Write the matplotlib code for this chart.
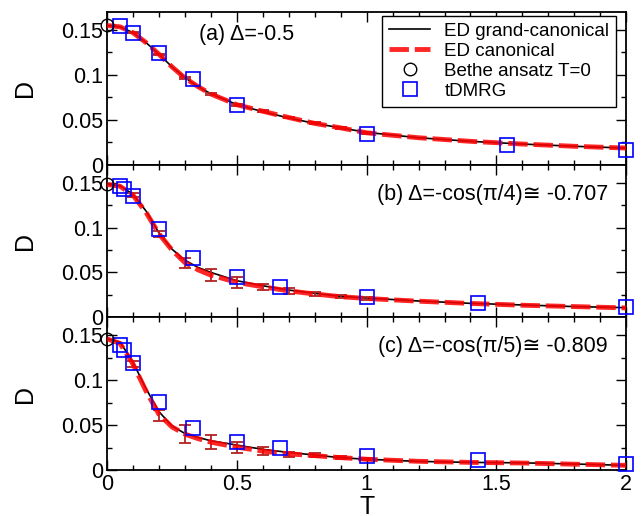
import matplotlib
matplotlib.use("Agg")
import matplotlib.pyplot as plt
from matplotlib.ticker import MultipleLocator, FuncFormatter

plt.rcParams['font.family'] = ['Liberation Sans', 'DejaVu Sans']

# temperature grid of the ED curves
T_ed = [0.0, 0.05, 0.1, 0.15, 0.2, 0.25, 0.3, 0.35, 0.4, 0.5, 0.6, 0.7,
        0.8, 0.9, 1.0, 1.2, 1.4, 1.6, 1.8, 2.0]

# ED grand-canonical (black)
gc_a = [0.155, 0.1535, 0.147, 0.136, 0.123, 0.109, 0.097, 0.087, 0.079, 0.067, 0.059, 0.052,
        0.046, 0.041, 0.036, 0.030, 0.026, 0.023, 0.0205, 0.0185]
gc_b = [0.148, 0.1465, 0.137, 0.1185, 0.094, 0.076, 0.0637, 0.0556, 0.050, 0.0408, 0.0352, 0.0304,
        0.0267, 0.0235, 0.0215, 0.0182, 0.0156, 0.0138, 0.012, 0.0108]
gc_c = [0.146, 0.1426, 0.120, 0.0907, 0.065, 0.049, 0.0407, 0.0363, 0.0326, 0.0278, 0.023, 0.0196,
        0.0167, 0.0137, 0.012, 0.0096, 0.0085, 0.008, 0.0067, 0.0052]

# ED canonical (red dashed)
can_a = [0.155, 0.1535, 0.147, 0.136, 0.123, 0.109, 0.0965, 0.087, 0.0787, 0.0668, 0.0595, 0.0525,
         0.046, 0.041, 0.0355, 0.030, 0.026, 0.023, 0.0205, 0.0185]
can_b = [0.148, 0.146, 0.136, 0.117, 0.093, 0.075, 0.061, 0.053, 0.047, 0.039, 0.034, 0.0295,
         0.026, 0.023, 0.021, 0.018, 0.0155, 0.0135, 0.012, 0.0105]
can_c = [0.146, 0.141, 0.118, 0.088, 0.062, 0.048, 0.040, 0.035, 0.031, 0.0255, 0.021, 0.018,
         0.016, 0.0138, 0.012, 0.0097, 0.0085, 0.0078, 0.0065, 0.0052]

# error bars of the canonical data
T_err = [0.1, 0.2, 0.3, 0.4, 0.5, 0.6, 0.7, 0.8, 0.9, 1.0]
errv_a = [0.147, 0.123, 0.0965, 0.0787, 0.0668, 0.0595, 0.0525, 0.046, 0.041, 0.0355]
err_a = [0.0005, 0.0008, 0.0015, 0.0015, 0.0012, 0.001, 0.001, 0.001, 0.001, 0.001]
errv_b = [0.136, 0.093, 0.061, 0.047, 0.039, 0.034, 0.0293, 0.026, 0.023, 0.021]
err_b = [0.002, 0.003, 0.0055, 0.007, 0.006, 0.0037, 0.0033, 0.002, 0.0015, 0.0015]
errv_c = [0.118, 0.061, 0.040, 0.031, 0.0254, 0.021, 0.0176, 0.0163, 0.0138, 0.012]
err_c = [0.003, 0.006, 0.0098, 0.008, 0.006, 0.0043, 0.003, 0.0022, 0.0015, 0.0012]

# Bethe ansatz T=0
ba = [0.155, 0.148, 0.146]

# tDMRG
T_dm_a = [0.05, 0.1, 0.2, 0.333, 0.5, 1.0, 1.54, 2.0]
dm_a = [0.1544, 0.1465, 0.124, 0.095, 0.067, 0.0347, 0.0224, 0.0168]
T_dm_bc = [0.05, 0.0667, 0.1, 0.2, 0.333, 0.5, 0.667, 1.0, 1.43, 2.0]
dm_b = [0.146, 0.1427, 0.135, 0.098, 0.0656, 0.0444, 0.034, 0.0222, 0.0156, 0.0111]
dm_c = [0.139, 0.134, 0.119, 0.0759, 0.0463, 0.0308, 0.0241, 0.0159, 0.0111, 0.0067]

labels = ["(a) \u0394=-0.5",
          "(b) \u0394=-cos(\u03c0/4)\u2245 -0.707",
          "(c) \u0394=-cos(\u03c0/5)\u2245 -0.809"]

panels = [
    (gc_a, can_a, errv_a, err_a, ba[0], T_dm_a, dm_a),
    (gc_b, can_b, errv_b, err_b, ba[1], T_dm_bc, dm_b),
    (gc_c, can_c, errv_c, err_c, ba[2], T_dm_bc, dm_c),
]

fig = plt.figure(figsize=(6.41, 5.16), dpi=100)
gs = fig.add_gridspec(3, 1, left=0.167, right=0.977, top=0.9767, bottom=0.0891, hspace=0)
axes = [fig.add_subplot(gs[i]) for i in range(3)]

fmt = FuncFormatter(lambda v, p: ("%g" % round(v, 3)))

for i, (ax, (gc, can, ev, ee, b0, tdm, dm)) in enumerate(zip(axes, panels)):
    ax.plot(T_ed, gc, color='black', lw=1.2, zorder=2, label='ED grand-canonical')
    ax.errorbar(T_err, ev, yerr=ee, fmt='none', ecolor='#b22222', elinewidth=1.3,
                capsize=4, capthick=1.3, zorder=3)
    ax.plot(T_ed, can, color='red', lw=3.5, ls=(0, (4, 1.2)), alpha=0.85, zorder=4,
            label='ED canonical')
    ax.plot([0], [b0], ls='none', marker='o', ms=9, mfc='none', mec='black', mew=1.0,
            clip_on=False, zorder=6, label='Bethe ansatz T=0')
    ax.plot(tdm, dm, ls='none', marker='s', ms=9.5, mfc='none', mec='blue', mew=1.2,
            clip_on=False, zorder=5, label='tDMRG')

    ax.set_xlim(0, 2)
    ax.set_ylim(0, 0.17)
    ax.xaxis.set_major_locator(MultipleLocator(0.5))
    ax.xaxis.set_minor_locator(MultipleLocator(0.1))
    ax.yaxis.set_major_locator(MultipleLocator(0.05))
    ax.yaxis.set_minor_locator(MultipleLocator(0.025))
    ax.yaxis.set_major_formatter(fmt)
    ax.xaxis.set_major_formatter(fmt)
    ax.tick_params(which='both', direction='in', top=True, right=True, labelsize=15.5, width=1.0)
    ax.tick_params(which='major', length=7, pad=3)
    ax.tick_params(which='minor', length=3.5)
    for s in ax.spines.values():
        s.set_linewidth(1.3)
    ax.set_ylabel('D', fontsize=18, labelpad=17)
    if i < 2:
        ax.tick_params(labelbottom=False)

    if i == 0:
        ax.text(0.177, 0.854, labels[i], transform=ax.transAxes, fontsize=15.5,
                ha='left', va='center')
    else:
        ax.text(0.965, 0.807, labels[i], transform=ax.transAxes, fontsize=15.5,
                ha='right', va='center')

axes[2].set_xlabel('T', fontsize=18, labelpad=0)
axes[0].legend(loc='upper right', bbox_to_anchor=(0.981, 0.974), fontsize=13.5,
               frameon=True, fancybox=False, edgecolor='black', framealpha=1,
               borderpad=0.37, handlelength=2.2, handletextpad=0.75, labelspacing=0.15,
               borderaxespad=0)

fig.savefig('out.png', dpi=100)
